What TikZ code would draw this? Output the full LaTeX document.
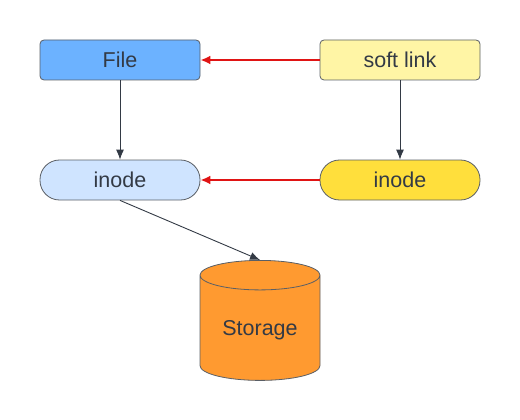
\documentclass[tikz,border=0pt]{standalone}
\usepackage{fontspec}
\setmainfont{Liberation Sans}
\usepackage{tikz}
\usetikzlibrary{arrows.meta,shapes.geometric}
\usepackage{xcolor}
\definecolor{inkgray}{HTML}{333A45}
\definecolor{edgegray}{HTML}{5A5F66}
\definecolor{fileblue}{HTML}{6CB2FF}
\definecolor{paleblue}{HTML}{CFE4FF}
\definecolor{paleyellow}{HTML}{FFF5A5}
\definecolor{sunyellow}{HTML}{FFDF3C}
\definecolor{storeorange}{HTML}{FF9A30}
\definecolor{linkred}{HTML}{E01414}

\tikzset{
  box/.style={draw=edgegray, line width=0.8pt, rounded corners=4pt,
    minimum width=160pt, minimum height=40pt, text=inkgray,
    font=\fontsize{21.5}{24}\selectfont},
  pill/.style={box, rounded corners=19.5pt},
  hardref/.style={->, inkgray, line width=0.9pt, >={Latex[length=10pt,width=8pt]}},
  softref/.style={->, linkred, line width=2.4pt, >={Latex[length=10pt,width=9pt]}}
}

\begin{document}
\begin{tikzpicture}[x=1pt, y=-1pt]
  \useasboundingbox (0,0) rectangle (520,420);
  \node[box, fill=fileblue] (file) at (120,60) {File};
  \node[box, fill=paleyellow] (soft) at (400,60) {soft link};
  \node[pill, fill=paleblue] (inode) at (120,180) {inode};
  \node[pill, fill=sunyellow] (softinode) at (400,180) {inode};
  \node[cylinder, shape border rotate=90, aspect=0.36, draw=edgegray,
    line width=0.8pt, fill=storeorange, minimum width=120pt,
    minimum height=120pt, text=inkgray, font=\fontsize{21.5}{24}\selectfont,
    anchor=north] (store) at (260,260) {Storage};
  \draw[softref] (soft.west) -- (file.east);
  \draw[softref] (softinode.west) -- (inode.east);
  \draw[hardref] (file.south) -- (inode.north);
  \draw[hardref] (soft.south) -- (softinode.north);
  \draw[hardref] (inode.south) -- (store.top);
\end{tikzpicture}
\end{document}
